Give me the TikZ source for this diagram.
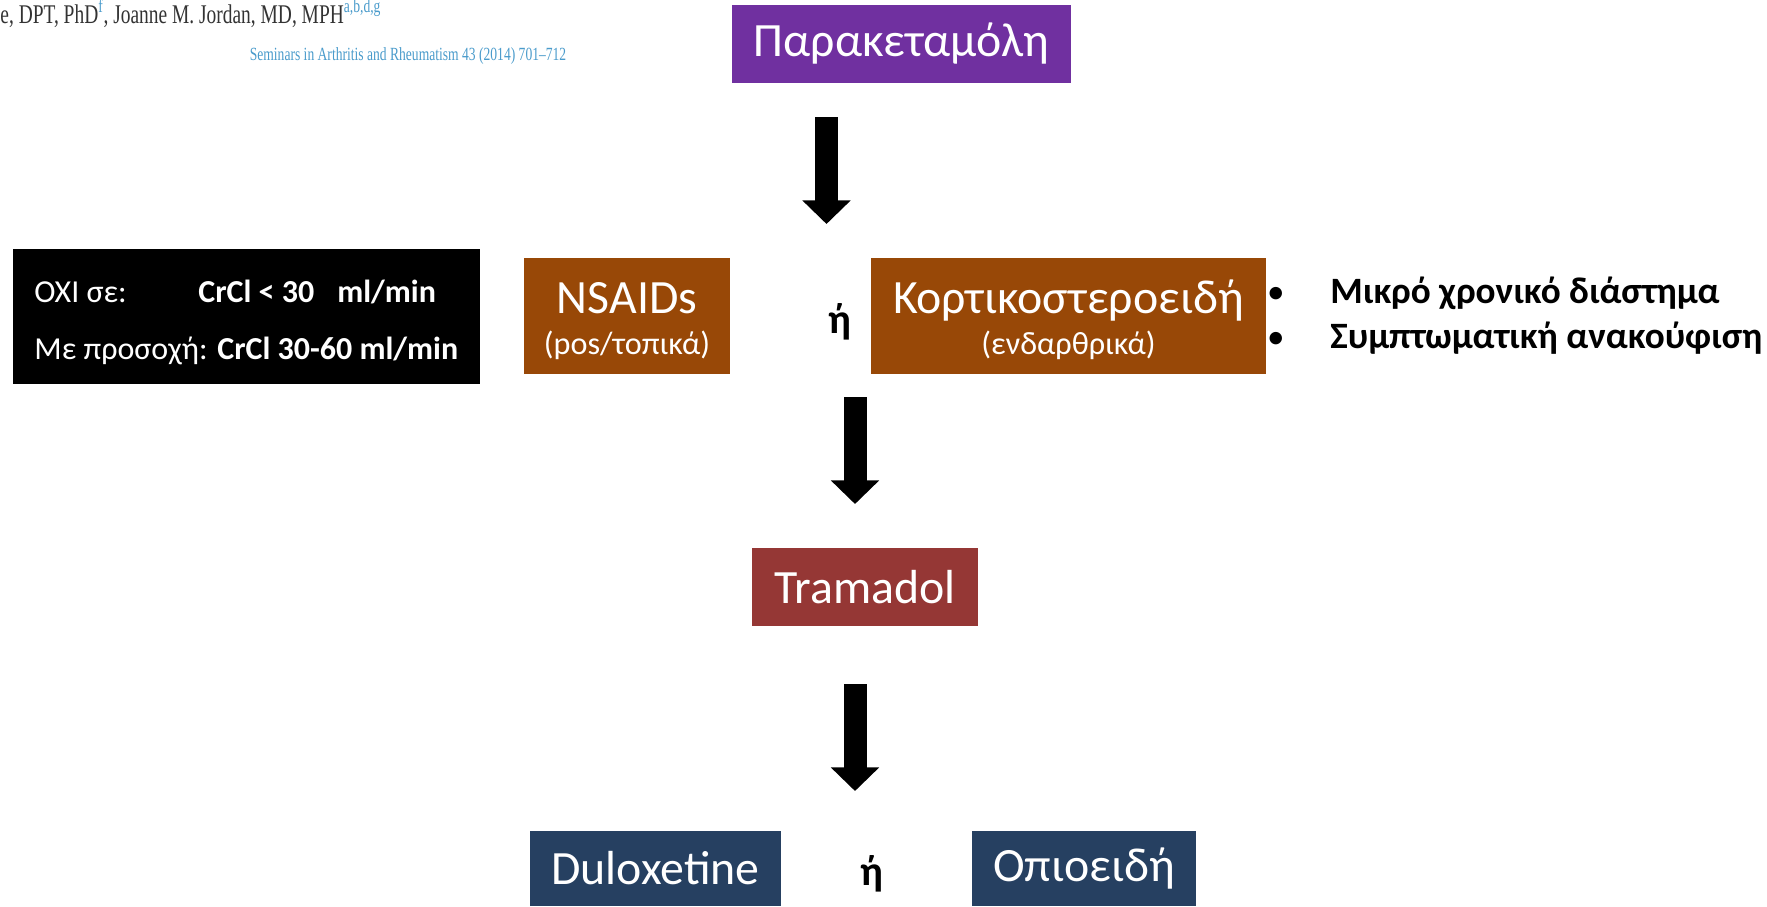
\documentclass[tikz,border=0pt]{standalone}
\usepackage{fontspec}
\setmainfont{Carlito}
\newfontfamily\journalfont{Liberation Serif}
\usetikzlibrary{arrows.meta}
\definecolor{purplebox}{HTML}{7030A0}
\definecolor{brownbox}{HTML}{984807}
\definecolor{redbox}{HTML}{953735}
\definecolor{navybox}{HTML}{264061}
\definecolor{journalblue}{HTML}{4A9BCB}
\definecolor{authorgray}{HTML}{333333}
\tikzset{
  box/.style={inner sep=0pt, outer sep=0pt, draw=none, text=white},
  bigtext/.style={font=\fontsize{23.9pt}{28pt}\selectfont},
  subtext/.style={font=\fontsize{16.1pt}{19pt}\selectfont, text=white},
  bigarrow/.style={line width=11.5pt, -{Triangle[width=23.5pt,length=11.8pt]}},
  ortext/.style={font=\bfseries\fontsize{21pt}{25pt}\selectfont},
  blktext/.style={font=\fontsize{16pt}{19pt}\selectfont, text=white, anchor=base west, inner sep=0pt},
  bullettext/.style={font=\bfseries\fontsize{18.6pt}{22pt}\selectfont, anchor=base west, inner sep=0pt},
}
\begin{document}
\begin{tikzpicture}[x=0.5pt,y=-0.5pt]
\useasboundingbox (0,0) rectangle (1767,906);
% header texts
\node[anchor=base west, inner sep=0pt, text=authorgray] (auth) at (0,23)
  {\scalebox{0.72}[1]{\journalfont\fontsize{13.5pt}{16pt}\selectfont e, DPT, PhD\textsuperscript{\color{journalblue}f}, Joanne M. Jordan, MD, MPH\textsuperscript{\color{journalblue}a,b,d,g}}};
\node[inner sep=0pt, text=journalblue] (jour) at (408,56)
  {\scalebox{0.73}[1]{\journalfont\fontsize{9.3pt}{11pt}\selectfont Seminars in Arthritis and Rheumatism 43 (2014) 701–712}};
% boxes
\node[box, bigtext, fill=purplebox, minimum width=169.5pt, minimum height=39pt] (par) at (901.5,44) {Παρακεταμόλη};
\node[box, fill=black, minimum width=233.5pt, minimum height=67.5pt] (blk) at (246.5,316.5) {};
\node[box, fill=brownbox, minimum width=103pt, minimum height=58pt] (nsaid) at (627,316) {};
\node[box, fill=brownbox, minimum width=197.5pt, minimum height=58pt] (cort) at (1068.5,316) {};
\node[box, bigtext, fill=redbox, minimum width=113pt, minimum height=39pt] (tram) at (865,587) {Tramadol};
\node[box, bigtext, fill=navybox, minimum width=125.5pt, minimum height=37.5pt] (dulox) at (655.5,868.5) {Duloxetine};
\node[box, bigtext, fill=navybox, minimum width=112pt, minimum height=37.5pt] (opio) at (1084,868.5) {Οπιοειδή};
% texts in brown boxes
\node[bigtext, text=white, anchor=base, inner sep=0pt] (nsaidt) at (627,313) {NSAIDs};
\node[subtext, anchor=base, inner sep=0pt] (nsaids) at (627,354) {(pos/τοπικά)};
\node[bigtext, text=white, anchor=base, inner sep=0pt] (cortt) at (1068.5,313) {Κορτικοστεροειδή};
\node[subtext, anchor=base, inner sep=0pt] (corts) at (1068.5,354) {(ενδαρθρικά)};
% black box texts
\node[blktext] (bl1) at (34,302) {ΟΧΙ σε:};
\node[blktext] (bl1b) at (198,302) {\bfseries CrCl < 30\hspace{11.5pt}ml/min};
\node[blktext] (bl2) at (34,359) {Με προσοχή: \bfseries CrCl 30-60 ml/min};
% or
\node[ortext] (or1) at (840,322) {ή};
\node[ortext] (or2) at (872,874) {ή};
% bullets
\node[font=\fontsize{17.6pt}{21pt}\selectfont, inner sep=0pt, anchor=base] (b1) at (1276,303) {•};
\node[font=\fontsize{17.6pt}{21pt}\selectfont, inner sep=0pt, anchor=base] (b2) at (1276,348) {•};
\node[bullettext] (bt1) at (1330,303) {Μικρό χρονικό διάστημα};
\node[bullettext] (bt2) at (1330,348) {Συμπτωματική ανακούφιση};
% arrows
\coordinate (a1s) at (826.5,117);
\coordinate (a1e) at (826.5,224);
\coordinate (a2s) at (855,397);
\coordinate (a2e) at (855,504);
\coordinate (a3s) at (855,684);
\coordinate (a3e) at (855,791);
\draw[bigarrow] (a1s) -- (a1e);
\draw[bigarrow] (a2s) -- (a2e);
\draw[bigarrow] (a3s) -- (a3e);
\end{tikzpicture}
\end{document}
